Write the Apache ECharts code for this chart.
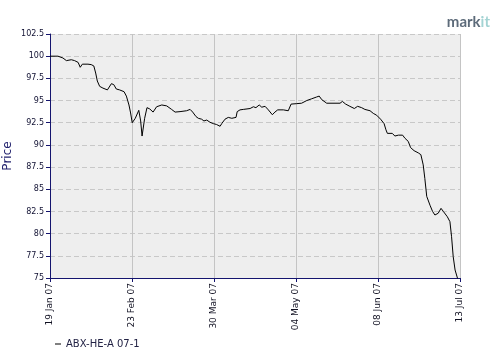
<!DOCTYPE html>
<html><head><meta charset="utf-8">
<script src="https://cdn.jsdelivr.net/npm/echarts@6/dist/echarts.min.js"></script>
<style>html,body{margin:0;padding:0;background:#fff}#c{width:500px;height:360px}</style>
</head><body><div id="c"></div>
<script>
// Days since 19 Jan 2007 and ABX-HE-A 07-1 price
const startDate = '2007-01-19';
const days = [0.0,3.4,5.5,7.0,9.1,10.5,12.0,12.9,13.8,16.2,17.6,18.7,19.5,20.2,21.2,22.6,24.5,25.2,26.2,27.2,28.3,29.7,31.6,32.6,33.7,34.4,35.1,36.4,37.9,38.7,39.3,40.4,41.4,42.6,44.0,45.5,47.7,49.8,51.9,53.4,55.5,58.3,59.8,60.9,62.3,63.3,64.7,65.7,66.9,68.3,69.7,71.1,72.6,73.3,74.7,76.1,77.6,79.4,79.9,81.1,82.5,85.4,86.8,87.9,89.3,90.4,91.8,93.2,94.9,96.0,97.2,99.6,101.7,102.9,105.3,107.4,109.6,111.7,113.8,114.9,116.0,118.1,123.8,124.8,126.2,128.0,129.9,131.3,133.0,134.4,136.6,138.0,139.4,141.1,142.6,143.4,144.0,144.8,146.1,147.2,148.7,150.5,151.5,152.9,153.9,155.4,157.2,158.3,159.3,160.0,160.8,162.2,163.3,164.3,165.7,166.9,167.9,169.6,170.7,171.4,172.1,172.9,173.9,174.6];
const prices = [100.0,100.0,99.8,99.5,99.6,99.5,99.3,98.75,99.1,99.1,99.05,98.9,98.1,97.2,96.6,96.4,96.2,96.4,96.9,96.8,96.3,96.2,96.0,95.5,94.5,93.6,92.5,93.0,93.9,92.7,91.0,93.0,94.2,94.05,93.7,94.3,94.5,94.4,94.0,93.7,93.75,93.85,94.0,93.7,93.2,93.0,92.9,92.7,92.8,92.55,92.4,92.3,92.1,92.4,92.9,93.1,93.0,93.1,93.75,93.95,94.0,94.1,94.3,94.2,94.5,94.25,94.35,93.95,93.4,93.7,93.95,93.95,93.85,94.6,94.65,94.7,95.0,95.2,95.4,95.5,95.1,94.7,94.7,94.9,94.6,94.35,94.1,94.35,94.2,94.0,93.85,93.55,93.35,92.9,92.4,91.7,91.3,91.4,91.3,91.0,91.1,91.1,90.75,90.4,89.7,89.35,89.1,88.9,87.75,86.2,84.2,83.2,82.5,82.1,82.3,82.85,82.5,81.9,81.35,79.65,77.4,75.9,75.0,74.6];
const seriesName = 'ABX-HE-A 07-1';
const xTickDays = [0, 35, 70, 105, 140, 175];
const yMin = 75, yMax = 102.5, yStep = 2.5;

const months = ['Jan','Feb','Mar','Apr','May','Jun','Jul','Aug','Sep','Oct','Nov','Dec'];
const base = new Date(startDate + 'T00:00:00Z').getTime();
function fmtDay(d) {
  const t = new Date(base + Math.round(d) * 86400000);
  const dd = String(t.getUTCDate()).padStart(2, '0');
  return dd + ' ' + months[t.getUTCMonth()] + ' ' + String(t.getUTCFullYear()).slice(2);
}
const navy = '#14146e';
const font = 'DejaVu Sans';
const chart = echarts.init(document.getElementById('c'), null, {renderer: 'canvas'});
chart.setOption({
  animation: false,
  backgroundColor: '#ffffff',
  title: {
    text: '{a|mark}{b|it}',
    right: 5, top: 10,
    textStyle: {rich: {
      a: {fontFamily: 'Lato', fontSize: 15, color: '#5d6b7a'},
      b: {fontFamily: 'Lato', fontSize: 15, color: '#a3d3d3'}
    }}
  },
  grid: {left: 50, right: 40, top: 34, bottom: 82, show: true, backgroundColor: '#eeeeee', borderWidth: 0,
         containLabel: false, outerBoundsMode: 'none'},
  legend: {
    left: 50, top: 334,
    data: [seriesName],
    icon: 'rect', itemWidth: 6, itemHeight: 1, itemGap: 4,
    textStyle: {fontFamily: font, fontSize: 10, color: '#222244'}
  },
  xAxis: {
    type: 'value', min: xTickDays[0], max: xTickDays[xTickDays.length - 1], interval: 35,
    axisLine: {lineStyle: {color: navy, width: 1}},
    axisTick: {show: true, length: 4, lineStyle: {color: navy}},
    axisLabel: {rotate: 90, fontFamily: font, fontSize: 9, color: '#111122', margin: 5, formatter: v => fmtDay(v)},
    splitLine: {show: true, lineStyle: {color: '#c4c4c4', width: 1}}
  },
  yAxis: {
    type: 'value', min: yMin, max: yMax, interval: yStep,
    name: 'Price', nameLocation: 'middle', nameGap: 36, nameRotate: 90, nameMoveOverlap: false,
    nameTextStyle: {fontFamily: font, fontSize: 12, color: '#22226e'},
    axisLine: {show: true, lineStyle: {color: navy, width: 1}},
    axisTick: {show: true, length: 4, lineStyle: {color: navy}},
    axisLabel: {fontFamily: font, fontSize: 8, color: '#111133', margin: 6, formatter: v => String(v)},
    splitLine: {show: true, lineStyle: {color: '#c8c8c8', type: [5, 3], width: 1}}
  },
  series: [{
    name: seriesName, type: 'line', showSymbol: false, symbol: 'none',
    data: days.map((d, i) => [d, prices[i]]),
    lineStyle: {color: '#000000', width: 1}, itemStyle: {color: '#000000'},
    clip: true
  }]
});
</script></body></html>
